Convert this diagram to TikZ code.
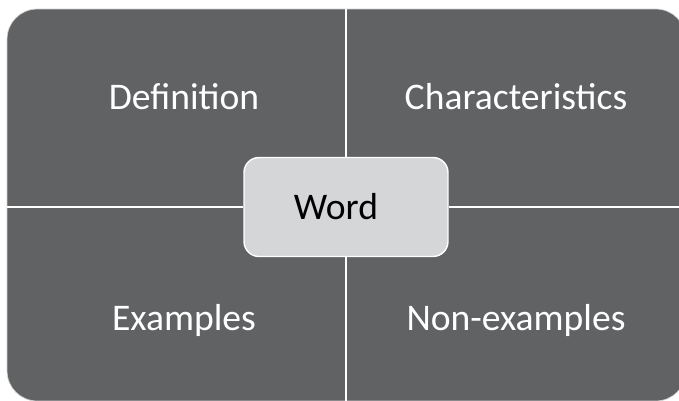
\documentclass[tikz,border=0pt]{standalone}
\usepackage{fontspec}
\setmainfont{Carlito}
\definecolor{panelgray}{HTML}{616264}
\definecolor{wordgray}{HTML}{D5D6D8}
\begin{document}
\begin{tikzpicture}[x=0.02cm, y=-0.02cm, every node/.style={font=\fontsize{21.4}{25}\selectfont, text=white}]
        \useasboundingbox (0,0) rectangle (679,400);
        \node (frame) [draw=gray!35, fill=panelgray, rounded corners=0.6cm, minimum width=13.58cm, minimum height=7.84cm, inner sep=0pt] at (346.5,205) {};

        \node (definition) at (184,97) {Definition};
        \node (characteristics) at (516,97) {Characteristics};
        \node (examples) at (184,320) {Examples};
        \node (nonexamples) at (516,320) {Non-examples};

        \node (word) [draw=white, line width=0.8pt, fill=wordgray, text=black, rounded corners=0.3cm, minimum width=4.08cm, minimum height=1.98cm] at (346,207) {Word\kern0.4cm};

        \draw[white, line width=0.9pt] (frame.north -| word.north) -- (word.north);
        \draw[white, line width=0.9pt] (word.south) -- (frame.south -| word.south);
        \draw[white, line width=0.9pt] (frame.west |- word.west) -- (word.west);
        \draw[white, line width=0.9pt] (word.east) -- (frame.east |- word.east);
    \end{tikzpicture}
\end{document}
